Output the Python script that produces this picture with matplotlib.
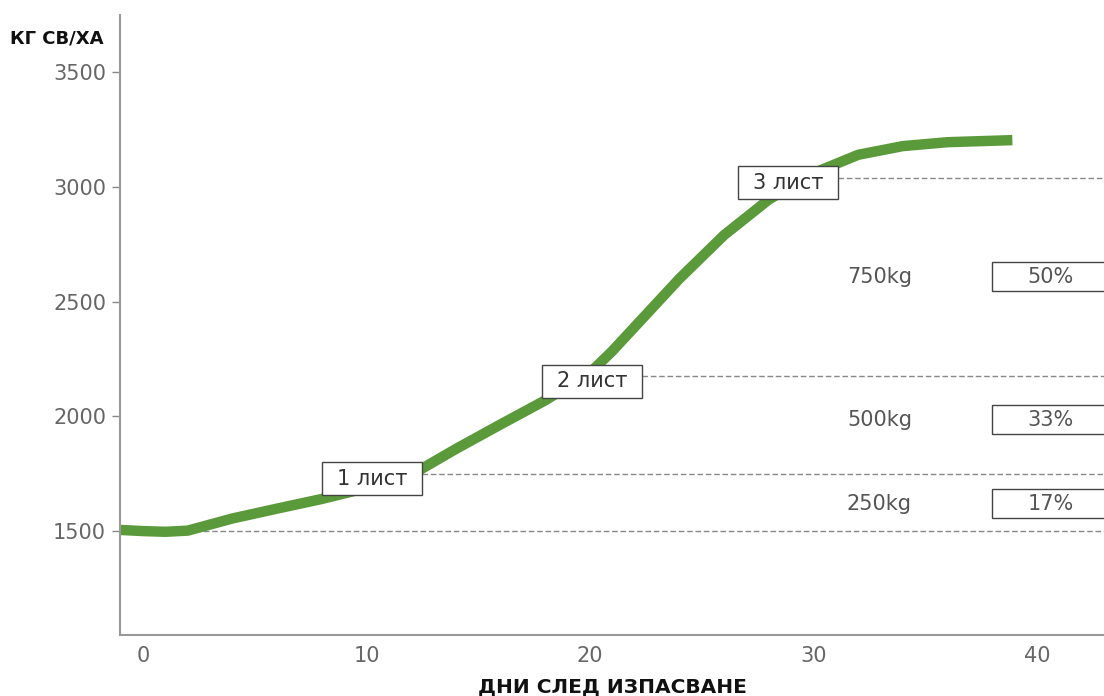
import matplotlib.pyplot as plt
from matplotlib.patches import Rectangle

# Dry matter accumulation after grazing
days = [-1, 0, 1, 2, 4, 6, 8, 10, 12, 14, 16, 18, 20, 21, 22, 24, 26, 28, 30, 32, 34, 36, 38.9]
dm = [1505, 1500, 1497, 1502, 1555, 1598, 1640, 1688, 1745, 1858, 1965, 2070, 2190, 2285,
      2390, 2600, 2790, 2945, 3060, 3140, 3178, 3195, 3204]

# Leaf stages: label, day of label, dry matter level
leaf_labels = ['1 лист', '2 лист', '3 лист']
leaf_days = [10.25, 20.1, 28.85]
leaf_levels = [1750, 2175, 3040]

# Growth between stages
gain_labels = ['250kg', '500kg', '750kg']
gain_pct = ['17%', '33%', '50%']
gain_y = [1620, 1986, 2609]

green = '#5a9a3a'
grey = '#666666'

plt.rcParams['font.family'] = ['DejaVu Sans']

fig = plt.figure(figsize=(11.04, 6.96), dpi=100)
ax = fig.add_axes([0.1087, 0.0876, 0.8913, 0.8904])

ax.set_xlim(-1.03, 43.0)
ax.set_ylim(1047, 3748)

# baseline and stage levels
ax.hlines(1500, -1.03, 43.0, colors='#888888', linestyles=(0, (4, 2)), lw=1, zorder=1)
for d, lvl in zip(leaf_days, leaf_levels):
    ax.hlines(lvl, d, 43.0, colors='#888888', linestyles=(0, (4, 2)), lw=1, zorder=1)

ax.plot(days, dm, color=green, lw=7.5, solid_capstyle='butt', solid_joinstyle='round', zorder=2)

# boxed stage labels, 100 x 33 px
bw, bh = 4.47, 144
for lab, d, lvl in zip(leaf_labels, leaf_days, leaf_levels):
    yc = lvl - 22
    ax.add_patch(Rectangle((d - bw / 2, yc - bh / 2), bw, bh, fc='white', ec='#444444',
                           lw=1, zorder=4))
    ax.text(d, yc, lab, ha='center', va='center', fontsize=15, color='#333333', zorder=5)

for lab, pct, y in zip(gain_labels, gain_pct, gain_y):
    ax.text(31.5, y, lab, ha='left', va='center', fontsize=15, color='#555555')
    ax.add_patch(Rectangle((38.0, y - 63), 10, 126, fc='white', ec='#444444', lw=1,
                           clip_on=False, zorder=4))
    ax.text(40.6, y, pct, ha='center', va='center', fontsize=15, color='#555555', zorder=5)

ax.set_xticks([0, 10, 20, 30, 40])
ax.set_yticks([1500, 2000, 2500, 3000, 3500])
ax.tick_params(axis='x', length=0, pad=8, labelsize=15, labelcolor=grey)
ax.tick_params(axis='y', length=6, width=1, color='#888888', pad=4, labelsize=15, labelcolor=grey)

for s in ['top', 'right']:
    ax.spines[s].set_visible(False)
for s in ['left', 'bottom']:
    ax.spines[s].set_color('#999999')
    ax.spines[s].set_linewidth(1.5)

fig.text(0.009, 0.945, 'КГ СВ/ХА', fontsize=13, fontweight='bold', color='#111111', va='center')
fig.text(0.555, 0.0125, 'ДНИ СЛЕД ИЗПАСВАНЕ', fontsize=14.5, fontweight='bold', color='#111111',
         ha='center', va='center')

fig.savefig('out.png', dpi=100)
plt.close(fig)
